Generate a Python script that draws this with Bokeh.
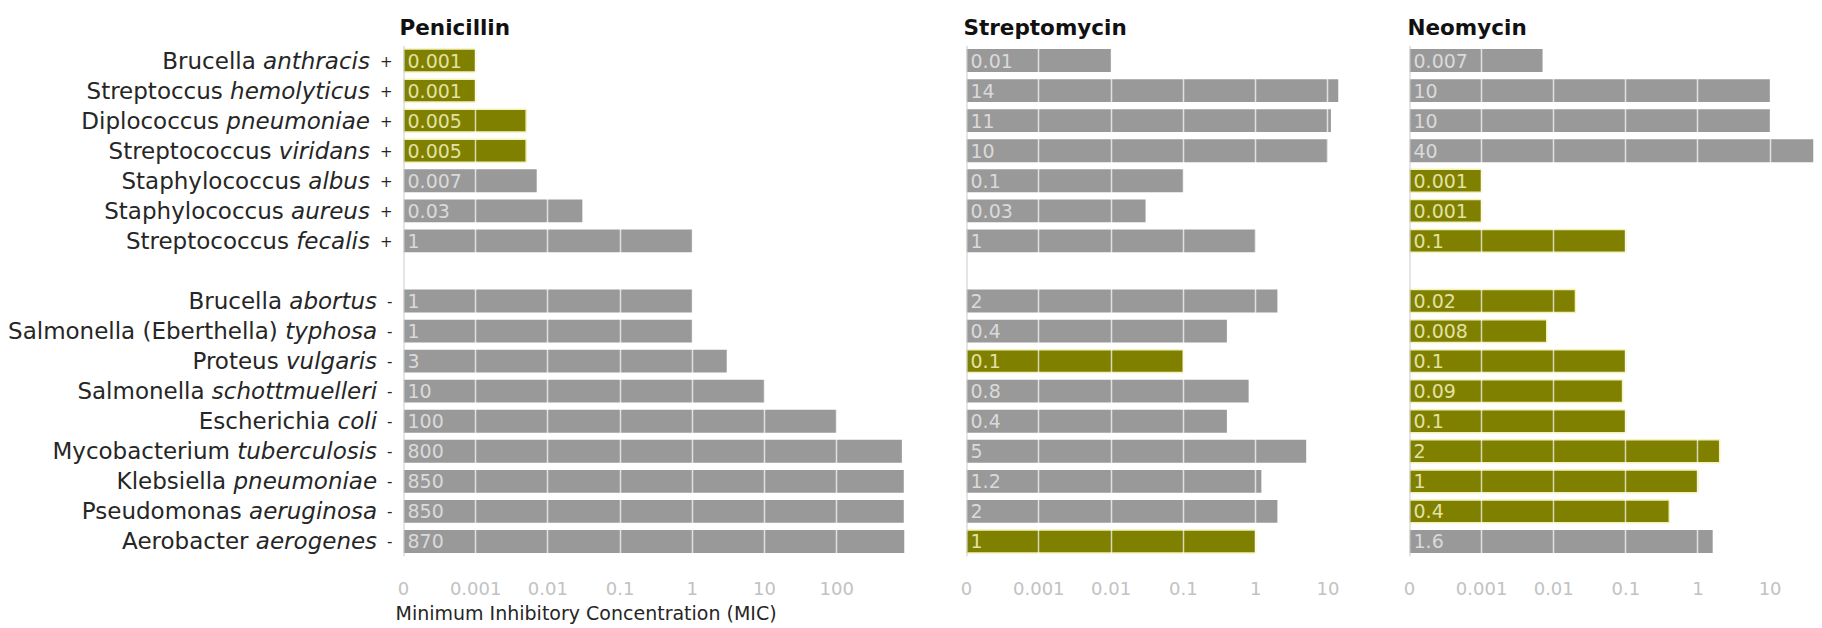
import os
import struct
import math

from bokeh.plotting import figure
from bokeh.layouts import row
from bokeh.models import (ColumnDataSource, FactorRange, Range1d, FixedTicker,
                          CustomJSTickFormatter, Span, Title)
from bokeh.core.properties import value
from bokeh.embed import file_html
from bokeh.resources import INLINE

# ---------------- data ----------------
GENUS = ["Brucella", "Streptoccus", "Diplococcus", "Streptococcus", "Staphylococcus",
         "Staphylococcus", "Streptococcus", "Brucella", "Salmonella (Eberthella)", "Proteus",
         "Salmonella", "Escherichia", "Mycobacterium", "Klebsiella", "Pseudomonas", "Aerobacter"]
SPECIES = ["anthracis", "hemolyticus", "pneumoniae", "viridans", "albus", "aureus", "fecalis",
           "abortus", "typhosa", "vulgaris", "schottmuelleri", "coli", "tuberculosis",
           "pneumoniae", "aeruginosa", "aerogenes"]
GRAM = ["+", "+", "+", "+", "+", "+", "+", "-", "-", "-", "-", "-", "-", "-", "-", "-"]

PENICILLIN = [0.001, 0.001, 0.005, 0.005, 0.007, 0.03, 1, 1, 1, 3, 10, 100, 800, 850, 850, 870]
STREPTOMYCIN = [0.01, 14, 11, 10, 0.1, 0.03, 1, 2, 0.4, 0.1, 0.8, 0.4, 5, 1.2, 2, 1]
NEOMYCIN = [0.007, 10, 10, 40, 0.001, 0.001, 0.1, 0.02, 0.008, 0.1, 0.09, 0.1, 2, 1, 0.4, 1.6]
ANTIBIOTICS = ["Penicillin", "Streptomycin", "Neomycin"]

TICK_VALUES = [0.0001, 0.001, 0.01, 0.1, 1, 10, 100]
TICK_LABELS = ["0", "0.001", "0.01", "0.1", "1", "10", "100"]
AXIS_TITLE = "Minimum Inhibitory Concentration (MIC)"

# ---------------- style / layout ----------------
FONT = "DejaVu Sans"
GRAY = "#999999"
OLIVE = "#7f7f00"
GRAY_TXT = "#dadada"
OLIVE_TXT = "#e2e2a4"
DECADE = 72.2          # px per decade
FRAME_H = 511
TOP = 45
BOTTOM = 72
HEIGHT = TOP + FRAME_H + BOTTOM
LABEL_W = 393
LABEL_SIZE = 23
SUFFIX_SIZE = 15
BORDERS = [(10, 30), (32, 35), (36, 4)]
TITLE_OFFSETS = [-4, -3, -2]


# ---------------- font metrics (for the mixed roman/italic labels) ----------------
def find_font(fname):
    roots = ["/usr/share/fonts", "/usr/local/share/fonts",
             os.path.expanduser("~/.fonts"), os.path.expanduser("~/.local/share/fonts")]
    for root in roots:
        for d, _, files in os.walk(root):
            if fname in files:
                return os.path.join(d, fname)
    return None


def make_measurer(fname):
    fallback = lambda s, size: 0.6 * size * len(s)
    path = find_font(fname)
    if path is None:
        return fallback
    try:
        data = open(path, "rb").read()
        ntab = struct.unpack(">H", data[4:6])[0]
        tables = {}
        for i in range(ntab):
            tag, _, off, ln = struct.unpack(">4sIII", data[12 + 16 * i:28 + 16 * i])
            tables[tag.decode("latin1")] = off
        head = tables["head"]
        upem = struct.unpack(">H", data[head + 18:head + 20])[0]
        hhea = tables["hhea"]
        nhm = struct.unpack(">H", data[hhea + 34:hhea + 36])[0]
        hmtx = tables["hmtx"]
        adv = [struct.unpack(">H", data[hmtx + 4 * i:hmtx + 4 * i + 2])[0] for i in range(nhm)]
        cmap = tables["cmap"]
        nsub = struct.unpack(">H", data[cmap + 2:cmap + 4])[0]
        sub = None
        for i in range(nsub):
            pid, eid, off = struct.unpack(">HHI", data[cmap + 4 + 8 * i:cmap + 12 + 8 * i])
            fmt = struct.unpack(">H", data[cmap + off:cmap + off + 2])[0]
            if fmt == 4:
                sub = cmap + off
                if pid == 3:
                    break
        segx2 = struct.unpack(">H", data[sub + 6:sub + 8])[0]
        seg = segx2 // 2
        ends = struct.unpack(">%dH" % seg, data[sub + 14:sub + 14 + segx2])
        starts = struct.unpack(">%dH" % seg, data[sub + 16 + segx2:sub + 16 + 2 * segx2])
        deltas = struct.unpack(">%dh" % seg, data[sub + 16 + 2 * segx2:sub + 16 + 3 * segx2])
        rpos = sub + 16 + 3 * segx2
        roffs = struct.unpack(">%dH" % seg, data[rpos:rpos + segx2])

        def gid(c):
            for k in range(seg):
                if starts[k] <= c <= ends[k]:
                    if roffs[k] == 0:
                        return (c + deltas[k]) & 0xFFFF
                    p = rpos + 2 * k + roffs[k] + 2 * (c - starts[k])
                    g = struct.unpack(">H", data[p:p + 2])[0]
                    return (g + deltas[k]) & 0xFFFF if g else 0
            return 0

        def width(s, size):
            tot = 0
            for ch in s:
                g = gid(ord(ch))
                tot += adv[min(g, nhm - 1)]
            return tot * size / upem

        return width
    except Exception:
        return fallback


w_reg = make_measurer("DejaVuSans.ttf")
w_it = make_measurer("DejaVuSans-Oblique.ttf")

# ---------------- derived data ----------------
names = [g + " " + s for g, s in zip(GENUS, SPECIES)]
keys = [(gr, n) for gr, n in zip(GRAM, names)]
series = [PENICILLIN, STREPTOMYCIN, NEOMYCIN]
best = [min(vals) for vals in zip(*series)]
X0 = TICK_VALUES[0]

yr = FactorRange(factors=list(reversed(keys)), group_padding=1.0, range_padding=0)

# ---------------- label column ----------------
suffix_off = [-1.0] * len(keys)
species_off = [-1.0 - w_reg(gr, SUFFIX_SIZE) - 10.0 for gr in GRAM]
genus_off = [so - w_it(sp, LABEL_SIZE) - w_reg(" ", LABEL_SIZE) for so, sp in zip(species_off, SPECIES)]

lab_src = ColumnDataSource(data=dict(key=keys, genus=GENUS, species=SPECIES, gram=GRAM,
                                     goff=genus_off, soff=species_off, xoff=suffix_off))

p0 = figure(width=LABEL_W, height=HEIGHT, x_range=Range1d(0, 1), y_range=yr,
            x_axis_location=None, y_axis_location=None, toolbar_location=None,
            output_backend="svg", min_border_left=0, min_border_right=0,
            min_border_top=TOP, min_border_bottom=BOTTOM)
p0.grid.visible = False
p0.outline_line_color = None
common = dict(y="key", source=lab_src, text_align="right", text_baseline="middle",
              text_font=value(FONT), text_color="#262626")
p0.text(x=1, text="genus", x_offset="goff", text_font_size=f"{LABEL_SIZE}px", **common)
p0.text(x=1, text="species", x_offset="soff", text_font_size=f"{LABEL_SIZE}px",
        text_font_style="italic", **common)
p0.text(x=1, text="gram", x_offset="xoff", text_font_size=f"{SUFFIX_SIZE}px", **common)

figs = [p0]
for idx, (name, vals) in enumerate(zip(ANTIBIOTICS, series)):
    xmax = max(vals)
    fw = int(round(DECADE * math.log10(xmax / X0)))
    bl, br = BORDERS[idx]
    p = figure(width=bl + fw + br, height=HEIGHT, x_axis_type="log",
               x_range=Range1d(X0, xmax), y_range=yr, y_axis_location=None,
               toolbar_location=None, output_backend="svg", title=name,
               min_border_left=bl, min_border_right=br,
               min_border_top=TOP, min_border_bottom=BOTTOM)
    p.outline_line_color = None
    p.ygrid.visible = False

    is_best = [v == b for v, b in zip(vals, best)]
    src = ColumnDataSource(data=dict(
        key=keys, v=vals,
        label=[f"{v:g}" for v in vals],
        fill=[OLIVE if b else GRAY for b in is_best],
        lalpha=[1.0 if b else 0.0 for b in is_best],
        tcol=[OLIVE_TXT if b else GRAY_TXT for b in is_best],
    ))
    p.hbar(y="key", left=X0, right="v", height=0.76, source=src,
           fill_color="fill", line_color="#f2f2bc", line_alpha="lalpha", line_width=1.5)
    p.text(x=X0, y="key", text="label", source=src, x_offset=4,
           text_align="left", text_baseline="middle", text_font=value(FONT),
           text_font_size="19px", text_color="tcol")

    ticks = [t for t in TICK_VALUES if t <= xmax]
    p.xaxis.ticker = FixedTicker(ticks=ticks, minor_ticks=[])
    p.xaxis.formatter = CustomJSTickFormatter(
        args=dict(vals=TICK_VALUES, labs=TICK_LABELS),
        code="""
        let best = 0, bd = Infinity;
        for (let i = 0; i < vals.length; i++) {
          const d = Math.abs(Math.log10(vals[i]) - Math.log10(tick));
          if (d < bd) { bd = d; best = i; }
        }
        return labs[best];
        """)
    p.xaxis.axis_line_color = None
    p.xaxis.major_tick_line_color = None
    p.xaxis.minor_tick_line_color = None
    p.xaxis.major_tick_out = 0
    p.xaxis.major_tick_in = 0
    p.xaxis.major_label_standoff = 25
    p.xaxis.major_label_text_font = FONT
    p.xaxis.major_label_text_font_size = "18px"
    p.xaxis.major_label_text_color = "#c2c2c2"

    p.xgrid.ticker = FixedTicker(ticks=ticks[1:], minor_ticks=[])
    p.xgrid.grid_line_color = "white"
    p.xgrid.grid_line_alpha = 0.7
    p.xgrid.grid_line_width = 1.5
    p.xgrid.level = "guide"

    p.add_layout(Span(location=X0, dimension="height", line_color="#cccccc", line_width=2))

    p.title.text_font = FONT
    p.title.text_font_size = "21.5px"
    p.title.text_font_style = "bold"
    p.title.text_color = "#111111"
    p.title.align = "left"
    p.title.offset = TITLE_OFFSETS[idx]
    p.title.standoff = 12

    if idx == 0:
        p.add_layout(Title(text=AXIS_TITLE, align="left", offset=-8, standoff=4,
                           text_font=FONT, text_font_size="19px", text_font_style="normal",
                           text_color="#262626"), "below")
    figs.append(p)

layout = row(*figs)
open("out.html", "w").write(file_html(layout, INLINE))
